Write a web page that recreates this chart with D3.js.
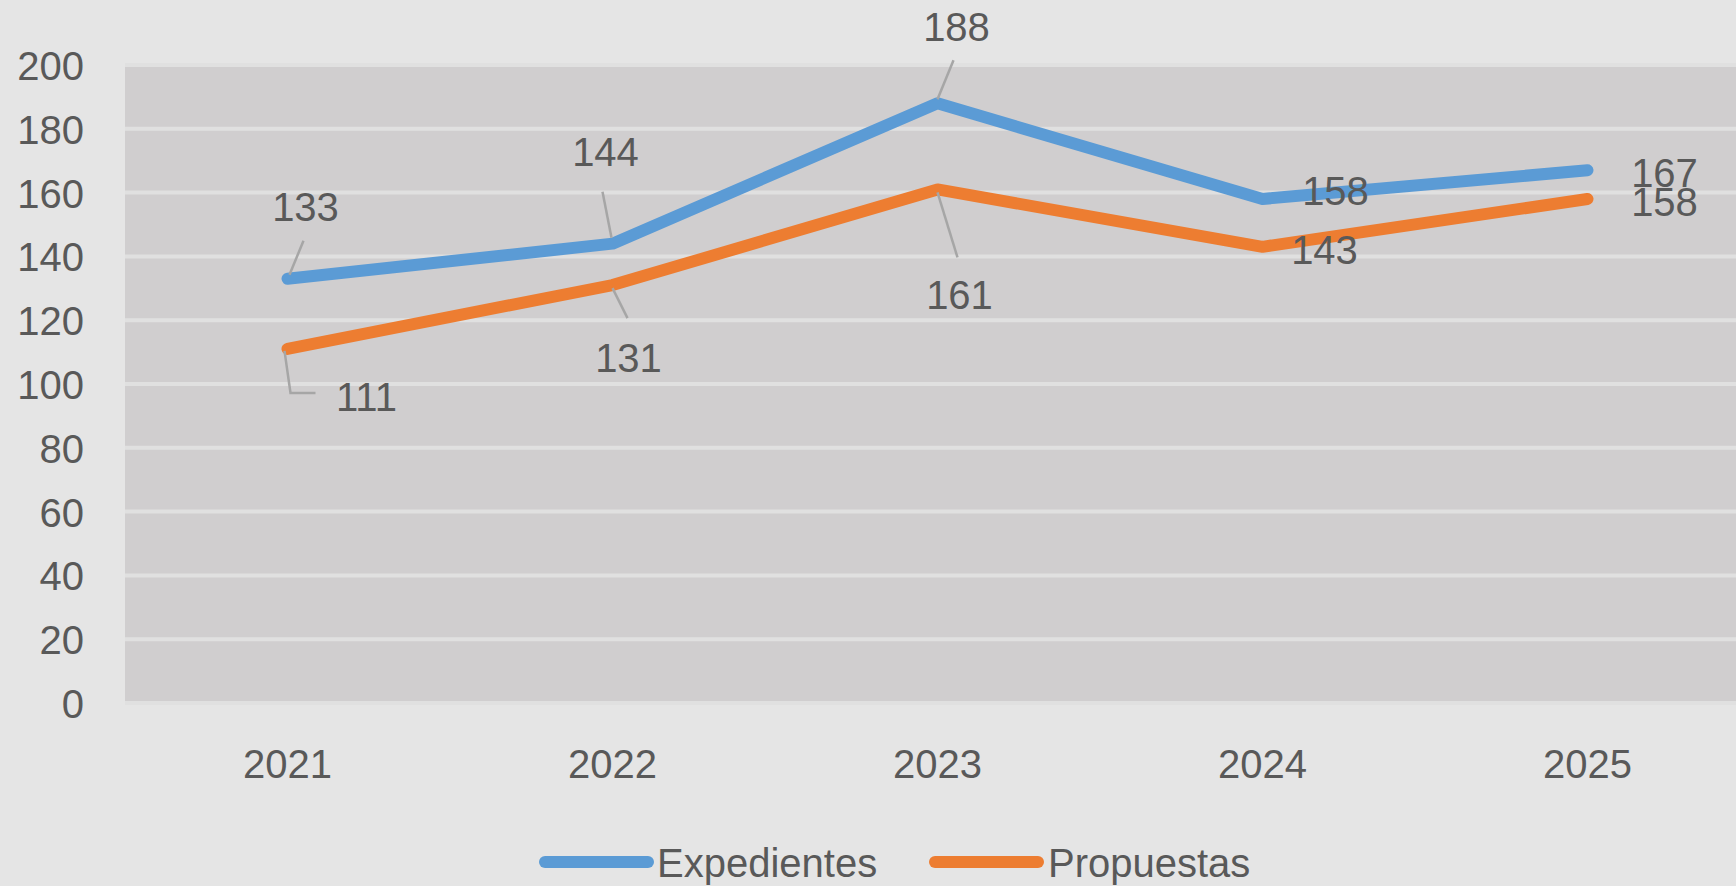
<!DOCTYPE html>
<html>
<head>
<meta charset="utf-8">
<script src="https://cdn.jsdelivr.net/npm/d3@7/dist/d3.min.js"></script>
<style>
  body { margin: 0; background: #e5e5e5; }
  svg { display: block; }
  text { font-family: "Liberation Sans", Arial, sans-serif; fill: #595959; }
</style>
</head>
<body>
<svg id="chart"></svg>
<script>
// datos
var years = ['2021', '2022', '2023', '2024', '2025'];
var expedientes = [133, 144, 188, 158, 167];
var propuestas = [111, 131, 161, 143, 158];
var yTicks = [0, 20, 40, 60, 80, 100, 120, 140, 160, 180, 200];
var seriesNames = ['Expedientes', 'Propuestas'];
var seriesColors = ['#5b9bd5', '#ed7d31'];

var W = 1736, H = 886;
// ojo: "top" es reservado en window, uso otros nombres
var plotLeft = 125, plotRight = 1750, plotTop = 65, plotBottom = 703;

var svg = d3.select('#chart').attr('width', W).attr('height', H);

svg.append('rect').attr('width', W).attr('height', H).attr('fill', '#e5e5e5');

var x = d3.scaleBand().domain(years).range([plotLeft, plotRight]);
var y = d3.scaleLinear().domain([0, 200]).range([plotBottom, plotTop]);

// area del grafico
svg.append('rect')
  .attr('x', plotLeft).attr('y', plotTop - 2)
  .attr('width', plotRight - plotLeft).attr('height', plotBottom - plotTop + 4)
  .attr('fill', '#d0cecf');

// lineas de la cuadricula
svg.append('g').selectAll('line')
  .data(yTicks)
  .enter()
  .append('line')
  .attr('x1', plotLeft).attr('x2', plotRight)
  .attr('y1', function(d){ return y(d) })
  .attr('y2', function(d){ return y(d) })
  .attr('stroke', '#e0e0e0')
  .attr('stroke-width', 4);

// eje y
var yAxis = svg.append('g')
  .attr('transform', 'translate(84,0)')
  .call(d3.axisLeft(y).tickValues(yTicks).tickSize(0).tickPadding(0));
yAxis.select('.domain').remove();
yAxis.selectAll('text')
  .attr('font-size', 40)
  .attr('dy', '0.36em')
  .style('font-family', '"Liberation Sans", Arial, sans-serif')
  .attr('fill', '#595959');

// eje x
var xAxis = svg.append('g')
  .attr('transform', 'translate(0,' + plotBottom + ')')
  .call(d3.axisBottom(x).tickSize(0).tickPadding(0));
xAxis.select('.domain').remove();
xAxis.selectAll('text')
  .attr('font-size', 40)
  .attr('y', 75)
  .attr('dy', 0)
  .style('font-family', '"Liberation Sans", Arial, sans-serif')
  .attr('fill', '#595959');

var cx = function(d, i){ return x(years[i]) + x.bandwidth() / 2 };

var line = d3.line()
  .x(function(d, i){ return cx(d, i) })
  .y(function(d){ return y(d) });

var allSeries = [expedientes, propuestas];

// lineas de etiquetas (leader lines), relativas al punto
var leaders = [
  [[[2, -4], [16, -38]], [[-1, -6], [-10, -52]], [[0, -4], [16, -43]], null, null],
  [[[-3, 2], [3, 44], [28, 44]], [[0, 3], [15, 33]], [[0, 3], [20, 68]], null, null]
];
// posicion del centro de la etiqueta, relativa al punto
var labelOff = [
  [[18, -72], [-7, -92], [19, -77], [73, -8], [77, 2]],
  [[79, 48], [16, 72], [22, 105], [62, 3], [77, 3]]
];

allSeries.forEach(function(s, k){
  svg.append('path')
    .datum(s)
    .attr('d', line)
    .attr('fill', 'none')
    .attr('stroke', seriesColors[k])
    .attr('stroke-width', 12)
    .attr('stroke-linejoin', 'round')
    .attr('stroke-linecap', 'round');
});

allSeries.forEach(function(s, k){
  var g = svg.append('g');
  s.forEach(function(v, i){
    var px = cx(v, i), py = y(v);
    var ld = leaders[k][i];
    if (ld) {
      g.append('polyline')
        .attr('points', ld.map(function(p){ return (px + p[0]) + ',' + (py + p[1]) }).join(' '))
        .attr('fill', 'none')
        .attr('stroke', '#a6a6a6')
        .attr('stroke-width', 2.5);
    }
    g.append('text')
      .attr('x', px + labelOff[k][i][0])
      .attr('y', py + labelOff[k][i][1])
      .attr('dy', '0.36em')
      .attr('text-anchor', 'middle')
      .attr('font-size', 40)
      .text(v);
  });
});

// leyenda
var legendItems = [
  { x1: 545, x2: 648, tx: 657 },
  { x1: 935, x2: 1038, tx: 1048 }
];
var lg = svg.append('g').selectAll('g')
  .data(legendItems)
  .enter()
  .append('g');
lg.append('line')
  .attr('x1', function(d){ return d.x1 })
  .attr('x2', function(d){ return d.x2 })
  .attr('y1', 862).attr('y2', 862)
  .attr('stroke', function(d, i){ return seriesColors[i] })
  .attr('stroke-width', 12)
  .attr('stroke-linecap', 'round');
lg.append('text')
  .attr('x', function(d){ return d.tx })
  .attr('y', 877)
  .attr('font-size', 40)
  .text(function(d, i){ return seriesNames[i] });
</script>
</body>
</html>
